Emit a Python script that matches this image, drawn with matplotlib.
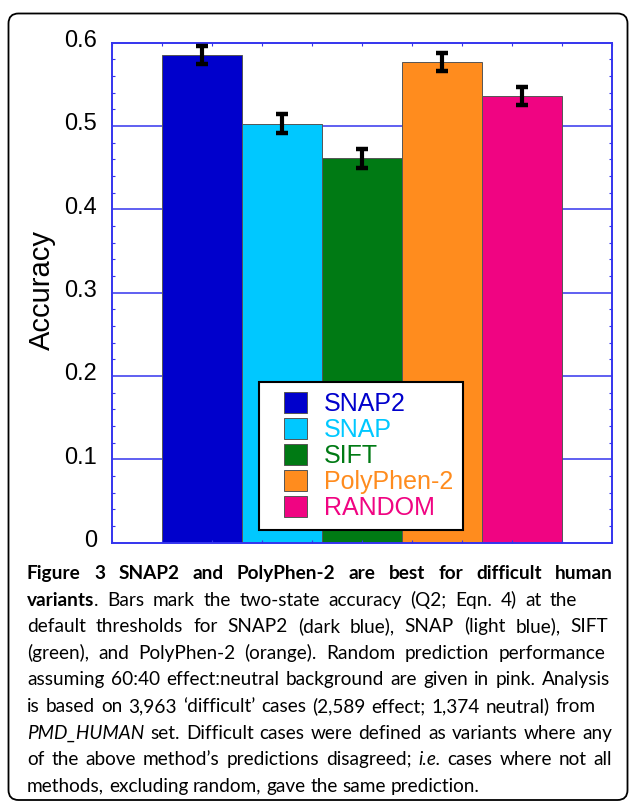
import numpy as np
import matplotlib
matplotlib.use('Agg')
import matplotlib.pyplot as plt
import matplotlib.transforms as mtransforms
from matplotlib.patches import FancyBboxPatch, Rectangle
from matplotlib.legend_handler import HandlerPatch
from matplotlib.ticker import MultipleLocator, FuncFormatter

#=========================================
# data
#=========================================
methods = ['SNAP2', 'SNAP', 'SIFT', 'PolyPhen-2', 'RANDOM']
accuracy = [0.585, 0.503, 0.461, 0.577, 0.536]
acc_err = [0.011, 0.011, 0.011, 0.011, 0.011]
colors = ['#0000cc', '#00c8ff', '#007a14', '#ff8c1e', '#f00482']

# caption lines: (text, style) pieces, and where each line ends (px, None = ragged)
caption = [
    [('Figure 3 SNAP2 and PolyPhen-2 are best for difficult human', 'bold')],
    [('variants', 'bold'), ('. Bars mark the two-state accuracy (Q2; Eqn. 4) at the', 'normal')],
    [('default thresholds for SNAP2 (dark blue), SNAP (light blue), SIFT', 'normal')],
    [('(green), and PolyPhen-2 (orange). Random prediction performance', 'normal')],
    [('assuming 60:40 effect:neutral background are given in pink. Analysis', 'normal')],
    [('is based on 3,963 \u2018difficult\u2019 cases (2,589 effect; 1,374 neutral) from', 'normal')],
    [('PMD_HUMAN', 'italic'), (' set. Difficult cases were defined as variants where any', 'normal')],
    [('of the above method\u2019s predictions disagreed;', 'normal'), (' i.e.', 'italic'),
     (' cases where not all', 'normal')],
    [('methods, excluding random, gave the same prediction.', 'normal')],
]
line_ends = [613, 577, 608, 605, 610, 596, 612, 612, None]
last_line_end = 481

plt.rcParams['font.family'] = ['Liberation Sans', 'DejaVu Sans']

W, H = 629, 802
blue = '#3434ee'

fig = plt.figure(figsize=(W / 100, H / 100), dpi=100)
ax = fig.add_axes([111.7 / W, 1 - 542.5 / H, 500 / W, 499.8 / H])

bar_w = 1.6
xpos = [1 + bar_w * (i + 0.5) for i in range(len(methods))]
ax.bar(xpos, accuracy, width=bar_w, color=colors, edgecolor='#555555',
       linewidth=0.7, label=methods, zorder=1)
ax.errorbar(xpos, accuracy, yerr=acc_err, fmt='none', ecolor='black',
            elinewidth=3, capsize=4.2, capthick=3.2, zorder=3)

ax.set_xlim(0, 10)
ax.set_ylim(0, 0.6)

# axis styling
ax.yaxis.set_major_locator(MultipleLocator(0.1))
ax.yaxis.set_minor_locator(MultipleLocator(0.02))
ax.yaxis.set_major_formatter(FuncFormatter(lambda v, p: '0' if abs(v) < 1e-9 else f'{v:.1f}'))
ax.xaxis.set_major_locator(MultipleLocator(1))
ax.tick_params(axis='y', which='major', length=0, pad=10.6, labelsize=17)
ax.tick_params(axis='y', which='minor', direction='in', length=2.2, width=0.8,
               color=blue, left=True, right=True)
ax.tick_params(axis='x', which='major', direction='in', length=2.2, width=0.8,
               color=blue, top=True, bottom=True, labelbottom=False)
for s in ax.spines.values():
    s.set_color(blue)
    s.set_linewidth(1.4)
ax.set_axisbelow(False)

for v in ax.get_yticks():
    if 0 < v < 0.59:
        ax.axhline(v, color=blue, lw=1.1, zorder=0.5)

for lbl in ax.get_yticklabels():
    lbl.set_transform(lbl.get_transform() +
                      mtransforms.ScaledTranslation(0, 0.04, fig.dpi_scale_trans))

fig.text(41.5 / W, 1 - 290 / H, 'Accuracy', rotation=90, ha='center', va='center', fontsize=21)

# legend with right-aligned squares
def square(legend, orig_handle, xdescent, ydescent, width, height, fontsize):
    w = 23 * 0.72
    return Rectangle((-xdescent + width - w, -ydescent), w, height)

handles, labels = ax.get_legend_handles_labels()
leg = ax.legend(handles, labels, loc='upper left',
                bbox_to_anchor=(259.3 / W, 1 - 382.3 / H), bbox_transform=fig.transFigure,
                borderaxespad=0, borderpad=0.4, handlelength=1.52, handleheight=0.88,
                handletextpad=0.67, labelspacing=0.08, fontsize=18,
                fancybox=False, framealpha=1, edgecolor='black',
                handler_map={Rectangle: HandlerPatch(patch_func=square)})
leg.get_frame().set_linewidth(1.5)
for t, c in zip(leg.get_texts(), colors):
    t.set_color(c)
leg.set_zorder(5)

#=========================================
# caption, word by word so lines can be justified
#=========================================
cap_family = ['Lato', 'DejaVu Sans']
cap_left = 27
renderer = fig.canvas.get_renderer()
cap_size = 10


def cap_text(x_px, y_px, txt, st):
    return fig.text(x_px / W, 1 - y_px / H, txt, va='baseline', ha='left',
                    fontsize=cap_size, family=cap_family,
                    weight='bold' if st == 'bold' else 'normal',
                    style='italic' if st == 'italic' else 'normal')


def width_px(t):
    return t.get_window_extent(renderer).width


# pick the size so that the ragged last line is as long as in the original
probe = cap_text(0, 0, caption[-1][0][0], 'normal')
cap_size = 10 * (last_line_end - cap_left) / width_px(probe)
probe.remove()

probe = cap_text(0, 0, 'x x', 'normal')
probe2 = cap_text(0, 0, 'xx', 'normal')
space_w = width_px(probe) - width_px(probe2)
probe.remove()
probe2.remove()

for i, parts in enumerate(caption):
    y = 579 + i * 26.6
    tokens = []
    for txt, st in parts:
        for j, w in enumerate(txt.split(' ')):
            if w == '':
                continue
            if j == 0 and tokens:
                tokens[-1].append((w, st))
            else:
                tokens.append([(w, st)])
    # lay out each word (possibly mixed style) at x=0 first, then shift
    words = []
    for tok in tokens:
        pieces = []
        x = 0
        for w, st in tok:
            t = cap_text(x, y, w, st)
            pieces.append((t, x))
            x += width_px(t)
        words.append((pieces, x))
    total = sum(wd for _, wd in words)
    if line_ends[i] is None or len(words) < 2:
        gap = space_w
    else:
        gap = (line_ends[i] - cap_left - total) / (len(words) - 1)
    x0 = cap_left
    for pieces, wd in words:
        for t, dx in pieces:
            t.set_x((x0 + dx) / W)
        x0 += wd + gap

# rounded frame round the whole figure
frame = FancyBboxPatch((8.5, 2), 619, 786.5, boxstyle='round,pad=0,rounding_size=10',
                       transform=mtransforms.IdentityTransform(),
                       fill=False, ec='black', lw=1.3)
fig.add_artist(frame)

fig.savefig('out.png', dpi=100)
